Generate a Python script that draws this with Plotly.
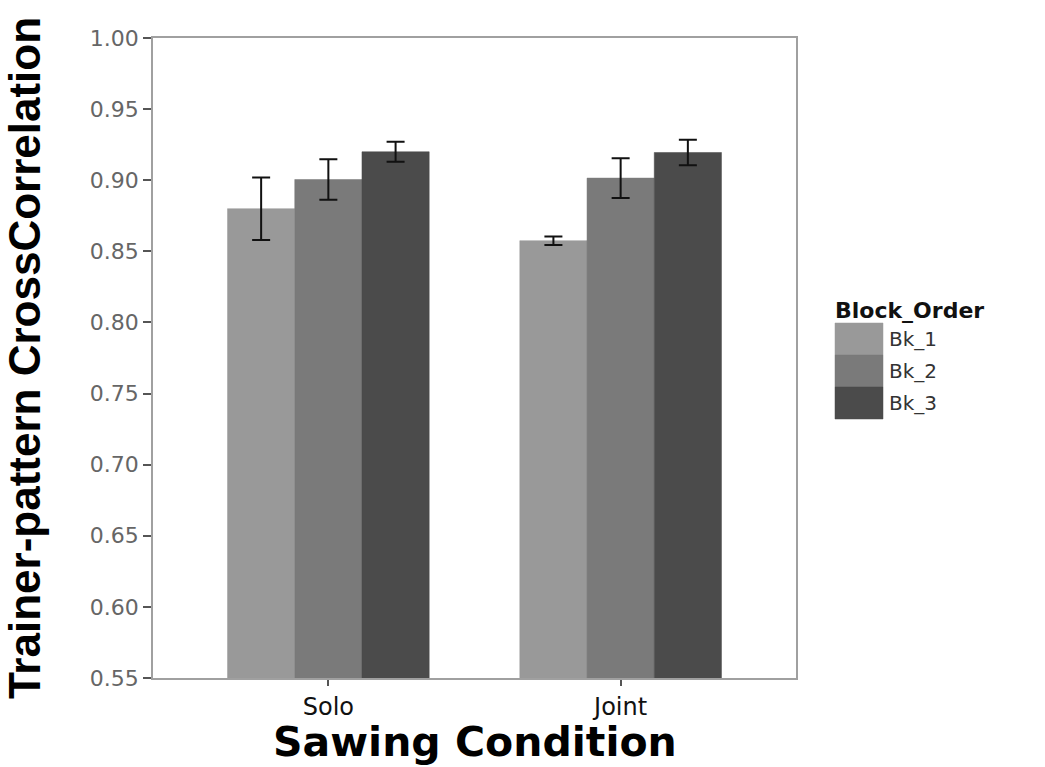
import plotly.graph_objects as go

conditions = ["Solo", "Joint"]
blocks = ["Bk_1", "Bk_2", "Bk_3"]
means = {
    "Bk_1": [0.880, 0.8575],
    "Bk_2": [0.9005, 0.9015],
    "Bk_3": [0.920, 0.9195],
}
errors = {
    "Bk_1": [0.022, 0.003],
    "Bk_2": [0.0143, 0.014],
    "Bk_3": [0.007, 0.009],
}
colors = {"Bk_1": "#999999", "Bk_2": "#7a7a7a", "Bk_3": "#4b4b4b"}
y_ticks = [0.55, 0.60, 0.65, 0.70, 0.75, 0.80, 0.85, 0.90, 0.95, 1.00]

W, H = 1045, 767
L, R, T, B = 153, 249, 38, 89
pw, ph = W - L - R, H - T - B


def px(x):
    return (x - L) / pw


def py(y):
    return (H - B - y) / ph


fig = go.Figure()
for b in blocks:
    fig.add_trace(go.Bar(
        name=b, x=conditions, y=means[b],
        marker=dict(color=colors[b], line=dict(color=colors[b], width=0.5)),
        error_y=dict(type="data", array=errors[b], color="#111111",
                     thickness=2, width=9),
        showlegend=False,
    ))

# custom legend (large ggplot-style keys)
fig.add_annotation(x=px(833), y=py(310), xref="paper", yref="paper",
                   text="<b>Block_Order</b>", showarrow=False,
                   xanchor="left", yanchor="middle",
                   font=dict(family="DejaVu Sans", size=22, color="#111111"))
for i, b in enumerate(blocks):
    y0 = 323 + 32 * i
    fig.add_shape(type="rect", xref="paper", yref="paper",
                  x0=px(835), x1=px(883), y0=py(y0 + 32), y1=py(y0),
                  fillcolor=colors[b], line=dict(color=colors[b], width=0.5))
    fig.add_annotation(x=px(887), y=py(y0 + 16), xref="paper", yref="paper",
                       text=b, showarrow=False, xanchor="left", yanchor="middle",
                       font=dict(family="DejaVu Sans", size=20, color="#333333"))

# x-axis title placed precisely
fig.add_annotation(x=px(475), y=py(767), xref="paper", yref="paper",
                   text="<b>Sawing Condition</b>", showarrow=False,
                   xanchor="center", yanchor="bottom", borderpad=0,
                   font=dict(family="DejaVu Sans", size=41, color="#000000"))

fig.update_layout(
    width=W, height=H,
    margin=dict(l=L, r=R, t=T, b=B),
    paper_bgcolor="white", plot_bgcolor="white",
    barmode="group", bargap=0.31, bargroupgap=0,
    showlegend=False,
    font=dict(family="DejaVu Sans"),
)
fig.update_xaxes(
    range=[-0.6, 1.6], showgrid=False, automargin=False,
    showline=True, linecolor="#a0a0a0", linewidth=1.5, mirror=True,
    ticks="outside", ticklen=6, tickcolor="#555555", tickwidth=1.5,
    ticklabelstandoff=0,
    tickfont=dict(size=24, color="#111111", family="DejaVu Sans"),
)
fig.update_yaxes(
    range=[0.55, 1.0], tickvals=y_ticks, ticktext=[f"{v:.2f}" for v in y_ticks],
    showgrid=False, zeroline=False, automargin=False,
    showline=True, linecolor="#a0a0a0", linewidth=1.5, mirror=True,
    ticks="outside", ticklen=8, tickcolor="#555555", tickwidth=1.5,
    tickfont=dict(size=22, color="#666666", family="DejaVu Sans"),
    title=dict(text="<b>Trainer-pattern CrossCorrelation</b>", standoff=38,
               font=dict(size=44, color="#000000", family="Liberation Sans, Arial")),
)

fig.write_html("out.html")
